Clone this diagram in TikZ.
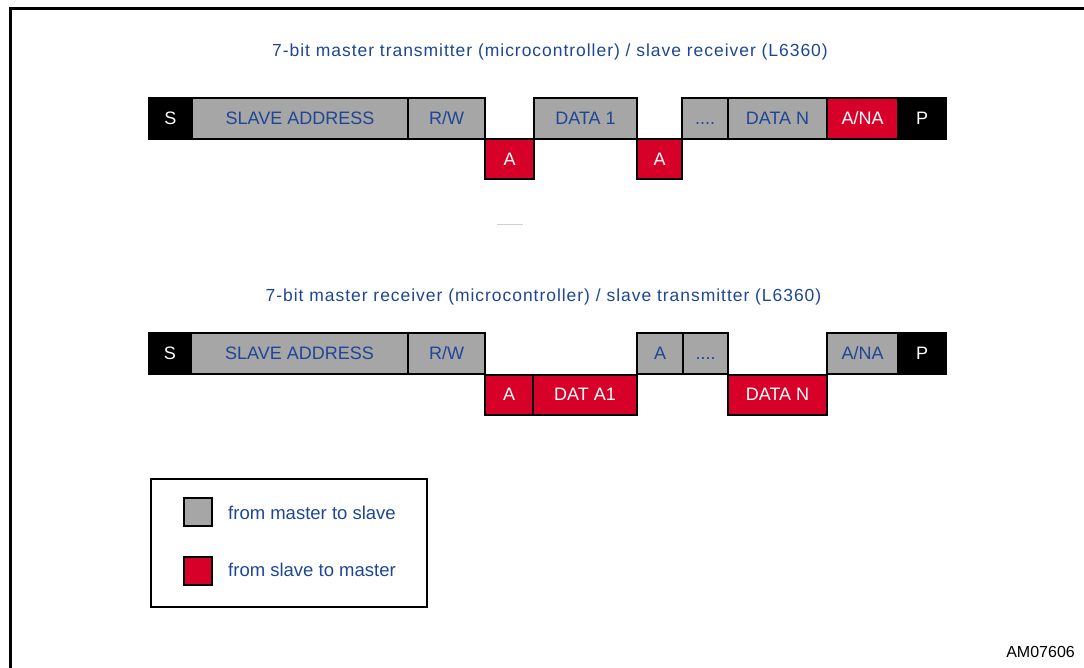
\documentclass[tikz,border=0pt]{standalone}
\usepackage{fontspec}
\setmainfont{Liberation Sans}
\newfontfamily\spacedfont[LetterSpace=5.5]{Liberation Sans}
\definecolor{txtblue}{RGB}{30,70,150}
\definecolor{boxgray}{RGB}{166,166,166}
\definecolor{boxred}{RGB}{215,0,40}
\tikzset{
  seg/.style={draw=black, line width=2pt, inner sep=0pt, text height=12.9pt, text depth=0pt, font=\fontsize{18}{20}\selectfont},
  gseg/.style={seg, fill=boxgray, text=txtblue},
  rseg/.style={seg, fill=boxred, text=white},
  kseg/.style={seg, fill=black, text=white},
  hi/.style={minimum height=41pt},
  lo/.style={minimum height=40pt},
  ttl/.style={text=txtblue, font=\spacedfont\fontsize{17.5}{20}\selectfont, inner sep=0pt},
  legtxt/.style={text=txtblue, font=\fontsize{18.5}{20}\selectfont, inner sep=0pt, anchor=west},
  legsq/.style={draw=black, line width=2pt, minimum width=28pt, minimum height=28pt, inner sep=0pt},
}
\begin{document}
\begin{tikzpicture}[x=1pt,y=-1pt]
\useasboundingbox (0,0) rectangle (1084,668);
% outer frame (partly cropped)
\draw[line width=3pt] (10,668) -- (10,8.5) -- (1090,8.5);

% ---- first sequence ----
\node[ttl] (t1) at (550,52) {7-bit master transmitter (microcontroller) / slave receiver (L6360)};
\node[kseg, hi, minimum width=43pt]  (s1)   at (170.5,118.5) {S};
\node[gseg, hi, minimum width=216pt] (sa1)  at (300,118.5)   {SLAVE ADDRESS};
\node[gseg, hi, minimum width=77pt]  (rw1)  at (446.5,118.5) {R/W};
\node[rseg, lo, minimum width=49pt]  (aa1)  at (509.5,159)   {A};
\node[gseg, hi, minimum width=103pt] (d11)  at (585.5,118.5) {DATA 1};
\node[rseg, lo, minimum width=45pt]  (ab1)  at (659.5,159)   {A};
\node[gseg, hi, minimum width=46pt]  (dt1)  at (705,118.5)   {....};
\node[gseg, hi, minimum width=99pt]  (dn1)  at (777.5,118.5) {DATA N};
\node[rseg, hi, minimum width=71pt]  (na1)  at (862.5,118.5) {A/NA};
\node[kseg, hi, minimum width=48pt]  (p1)   at (922,118.5)   {P};

% faint mark
\draw[black!18, line width=0.8pt] (497,224.5) -- (523,224.5);

% ---- second sequence ----
\node[ttl] (t2) at (543.5,297) {7-bit master receiver (microcontroller) / slave transmitter (L6360)};
\node[kseg, hi, minimum width=43pt]  (s2)   at (170,353)   {S};
\node[gseg, hi, minimum width=217pt] (sa2)  at (299.5,353) {SLAVE ADDRESS};
\node[gseg, hi, minimum width=77pt]  (rw2)  at (446.5,353) {R/W};
\node[rseg, lo, minimum width=48pt]  (aa2)  at (509,394.5) {A};
\node[rseg, lo, minimum width=104pt] (d12)  at (585,394.5) {DAT A1};
\node[gseg, hi, minimum width=46pt]  (ab2)  at (660,353)   {A};
\node[gseg, hi, minimum width=45pt]  (dt2)  at (705.5,353) {....};
\node[rseg, lo, minimum width=99pt]  (dn2)  at (777.5,394.5) {DATA N};
\node[gseg, hi, minimum width=71pt]  (na2)  at (862.5,353) {A/NA};
\node[kseg, hi, minimum width=48pt]  (p2)   at (922,353)   {P};

% ---- legend ----
\node[draw=black, line width=2.5pt, minimum width=276pt, minimum height=128pt, inner sep=0pt] (leg) at (289,543) {};
\node[legsq, fill=boxgray] (lg) at (197.5,511.5) {};
\node[legsq, fill=boxred]  (lr) at (198,571) {};
\node[legtxt] (lgt) at (228,513) {from master to slave};
\node[legtxt] (lrt) at (228,570) {from slave to master};

\node[font=\fontsize{16}{18}\selectfont, inner sep=0pt, anchor=east] (am) at (1075,652) {AM07606};
\end{tikzpicture}
\end{document}
